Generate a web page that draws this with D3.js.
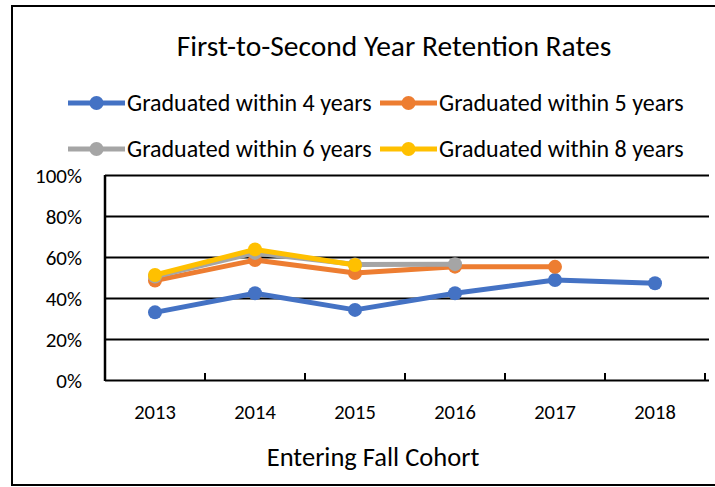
<!DOCTYPE html>
<html>
<head>
<meta charset="utf-8">
<script src="https://d3js.org/d3.v7.min.js"></script>
<style>
    body { margin:0; background:white; }
    svg { display:block; }
    svg text { font-family: Carlito, Calibri, Lato, sans-serif; }
</style>
</head>
<body>
<svg id="LineChart"></svg>
<script>
// values (percent)
var years = ["2013","2014","2015","2016","2017","2018"];
var grad4 = [33, 42.3, 34.2, 42.3, 48.8, 47.2];
var grad5 = [48.5, 58.5, 52.2, 55.3, 55.2, null];
var grad6 = [50.5, 62, 56.4, 56.5, null, null];
var grad8 = [51.2, 63.7, 56.1, null, null, null];
var seriesNames = ["Graduated within 4 years","Graduated within 5 years",
                   "Graduated within 6 years","Graduated within 8 years"];
var seriesColors = ["#4472C4","#ED7D31","#A5A5A5","#FFC000"];
var yTicks = [0,20,40,60,80,100];

var initGraph = function(target)
{
    var screen = {width:715, height:487};
    var margins = {top:175, bottom:107, left:105, right:10};
    var graph =
    {
        width:screen.width-margins.left-margins.right,
        height:screen.height-margins.top-margins.bottom
    }

    d3.select(target)
        .attr("width",screen.width)
        .attr("height",screen.height)

    // outer chart frame
    d3.select(target).append("rect")
        .attr("x",12)
        .attr("y",6)
        .attr("width",screen.width)
        .attr("height",479)
        .attr("fill","white")
        .attr("stroke","black")
        .attr("stroke-width",2)

    var xScale = d3.scaleBand()
        .domain(years)
        .range([0,graph.width]);
    var yScale = d3.scaleLinear()
        .domain([0,100])
        .range([graph.height,0]);

    var series = [grad4,grad5,grad6,grad8].map(function(vals,i)
    {
        return {name:seriesNames[i], color:seriesColors[i],
                values:vals.map(function(v,j){return {year:years[j], value:v};})};
    });

    createAxes(screen,margins,graph,target,xScale,yScale);
    drawLines(series,margins,target,xScale,yScale);
    createLabels(screen,margins,graph,target);
    createLegend(series,target);
}

var createAxes = function(screen,margins,graph,target,xScale,yScale)
{
    var axes = d3.select(target).append("g")
        .attr("transform","translate("+margins.left+","+margins.top+")");

    // horizontal gridlines
    var yAxis = d3.axisLeft(yScale)
        .tickValues(yTicks)
        .tickSize(-(graph.width+4))
        .tickFormat(function(d){return d+"%";});
    var yg = axes.append("g").call(yAxis);
    yg.select(".domain").remove();
    yg.selectAll(".tick line")
        .attr("stroke","black")
        .attr("stroke-width",2);
    yg.selectAll(".tick text")
        .attr("x",-23)
        .attr("dy","0.35em")
        .style("font-size","21px")
        .attr("fill","black");

    // vertical axis line
    axes.append("line")
        .attr("x1",0).attr("x2",0)
        .attr("y1",0).attr("y2",graph.height+1)
        .attr("stroke","black")
        .attr("stroke-width",2.5)

    // x axis with inward tick marks on category borders
    var xAxis = d3.axisBottom(xScale).tickSize(0).tickPadding(24);
    var xg = axes.append("g")
        .attr("transform","translate(0,"+graph.height+")")
        .call(xAxis);
    xg.select(".domain").remove();
    xg.selectAll(".tick text")
        .style("font-size","20.5px")
        .attr("fill","black");
    xg.selectAll(".border")
        .data(years)
        .enter()
        .append("line")
        .attr("x1",function(d){return xScale(d)+xScale.bandwidth();})
        .attr("x2",function(d){return xScale(d)+xScale.bandwidth();})
        .attr("y1",0)
        .attr("y2",-7)
        .attr("stroke","black")
        .attr("stroke-width",2)
}

var drawLines = function(series,margins,target,xScale,yScale)
{
    var plot = d3.select(target).append("g")
        .attr("transform","translate("+margins.left+","+margins.top+")");

    var line = d3.line()
        .defined(function(d){return d.value!=null;})
        .x(function(d){return xScale(d.year)+xScale.bandwidth()/2;})
        .y(function(d){return yScale(d.value);});

    series.forEach(function(s)
    {
        var g = plot.append("g");
        g.append("path")
            .datum(s.values)
            .attr("d",line)
            .attr("fill","none")
            .attr("stroke",s.color)
            .attr("stroke-width",5)
            .attr("stroke-linejoin","round")
        g.selectAll("circle")
            .data(s.values.filter(function(d){return d.value!=null;}))
            .enter()
            .append("circle")
            .attr("cx",function(d){return xScale(d.year)+xScale.bandwidth()/2;})
            .attr("cy",function(d){return yScale(d.value);})
            .attr("r",7)
            .attr("fill",s.color)
    });
}

var createLabels = function(screen,margins,graph,target)
{
    var labels = d3.select(target).append("g");

    labels.append("text")
        .text("First-to-Second Year Retention Rates")
        .attr("text-anchor","middle")
        .attr("x",394)
        .attr("y",56)
        .style("font-size","29.5px")
        .attr("fill","black")

    labels.append("text")
        .text("Entering Fall Cohort")
        .attr("text-anchor","middle")
        .attr("x",373)
        .attr("y",466)
        .style("font-size","26.5px")
        .attr("fill","black")
}

var createLegend = function(series,target)
{
    var pos = [{x:68,y:103},{x:380,y:103},{x:68,y:149},{x:380,y:149}];
    var legend = d3.select(target).append("g");
    var items = legend.selectAll("g")
        .data(series)
        .enter()
        .append("g")
        .attr("transform",function(d,i){return "translate("+pos[i].x+","+pos[i].y+")";});
    items.append("line")
        .attr("x1",0).attr("x2",57)
        .attr("y1",0).attr("y2",0)
        .attr("stroke",function(d){return d.color;})
        .attr("stroke-width",5)
    items.append("circle")
        .attr("cx",28.5)
        .attr("cy",0)
        .attr("r",7)
        .attr("fill",function(d){return d.color;})
    items.append("text")
        .text(function(d){return d.name;})
        .attr("x",59)
        .attr("y",8)
        .style("font-size","24px")
        .attr("fill","black")
}

initGraph("#LineChart");
</script>
</body>
</html>
